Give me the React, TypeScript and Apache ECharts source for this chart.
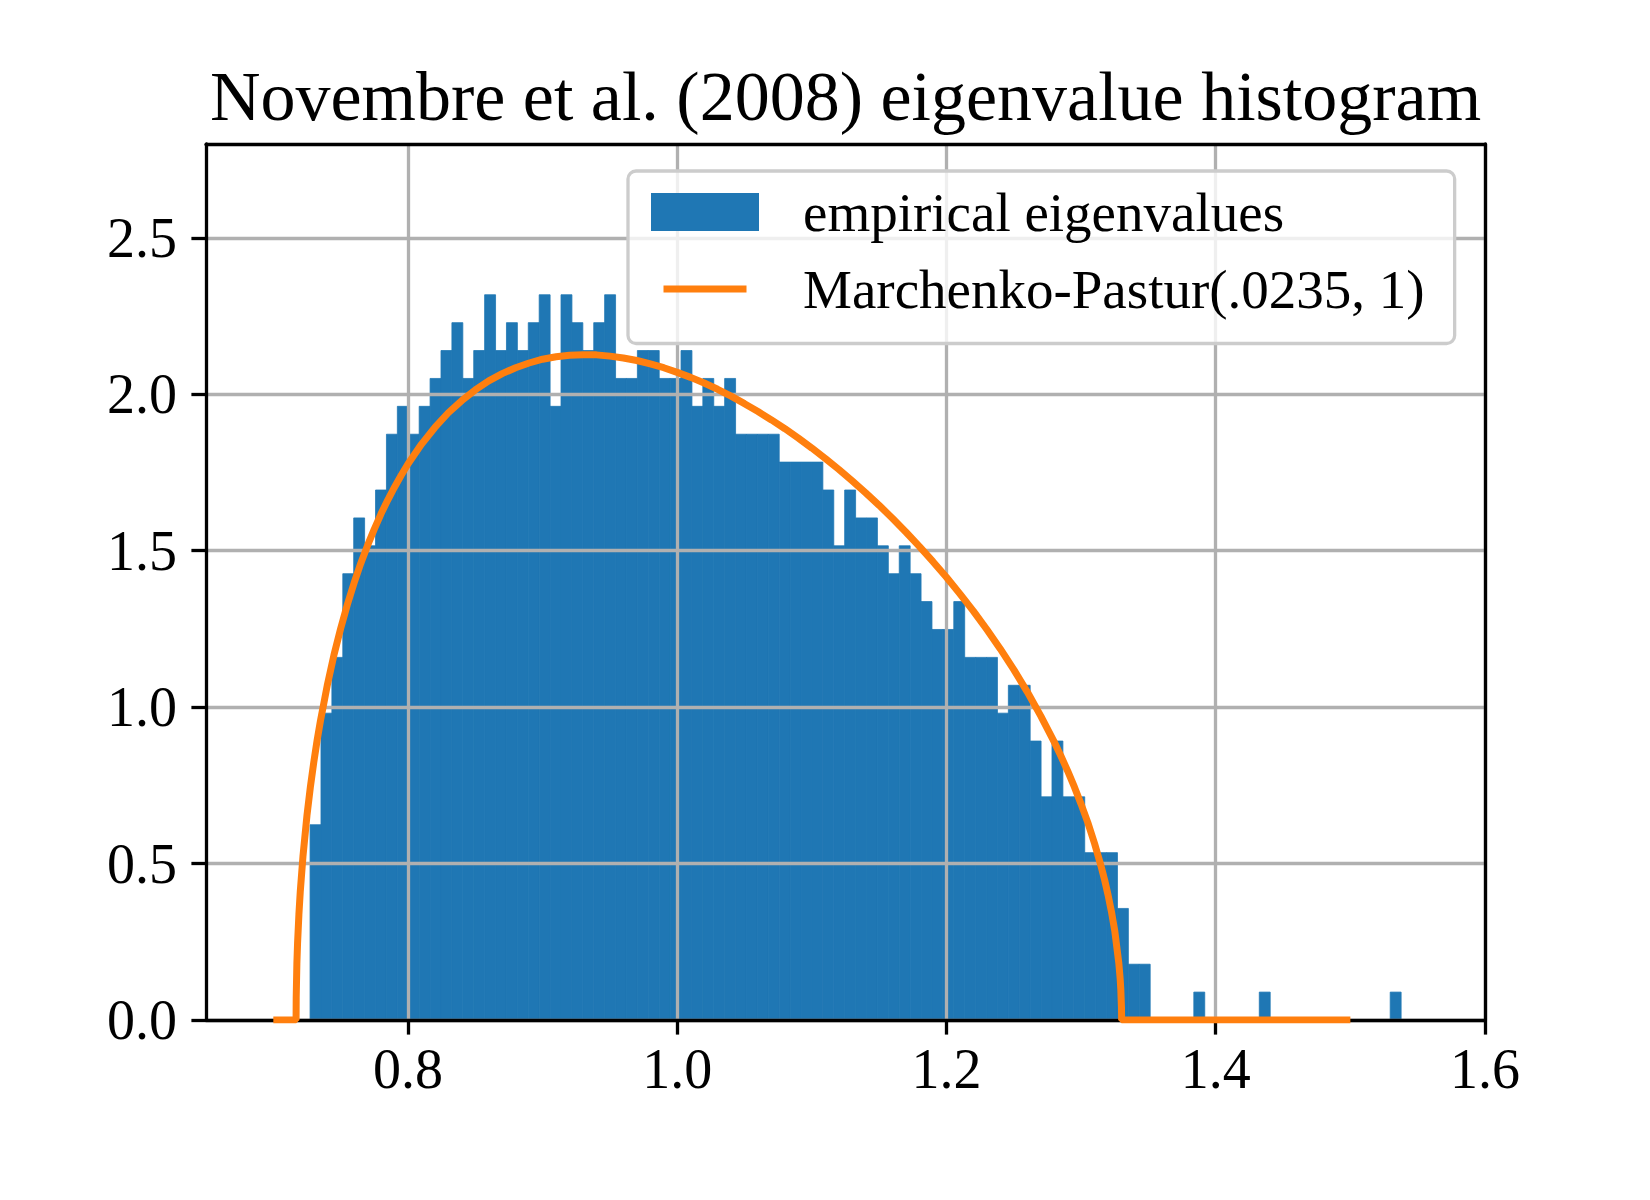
import React, { useEffect, useRef } from "react";
import * as echarts from "echarts";

// ---- data ----
const TITLE = "Novembre et al. (2008) eigenvalue histogram";
const HIST_NAME = "empirical eigenvalues";
const MP_NAME = "Marchenko-Pastur(.0235, 1)";

// histogram: 100 equal bins between the smallest and largest eigenvalue
const BIN_START = 0.7273;
const BIN_END = 1.5377;
const BIN_COUNTS = [
  7, 11, 13, 16, 18, 17, 19, 21, 22, 21,
  22, 23, 24, 25, 23, 24, 26, 24, 25, 24,
  25, 26, 22, 26, 25, 24, 25, 26, 23, 23,
  24, 24, 23, 23, 24, 22, 23, 22, 23, 21,
  21, 21, 21, 20, 20, 20, 20, 19, 17, 19,
  18, 18, 17, 16, 17, 16, 15, 14, 14, 15,
  13, 13, 13, 11, 12, 12, 10, 8, 10, 8,
  8, 6, 6, 6, 4, 2, 2, 0, 0, 0,
  0, 1, 0, 0, 0, 0, 0, 1, 0, 0,
  0, 0, 0, 0, 0, 0, 0, 0, 0, 1,
];

// Marchenko-Pastur curve, points
const MP_X = [
  0.7, 0.7169, 0.717, 0.7175, 0.718, 0.719, 0.72, 0.722, 0.725, 0.7275,
  0.73, 0.7325, 0.735, 0.74, 0.745, 0.75, 0.755, 0.76, 0.765, 0.77,
  0.775, 0.78, 0.785, 0.79, 0.795, 0.8, 0.81, 0.82, 0.83, 0.84,
  0.85, 0.86, 0.87, 0.88, 0.89, 0.9, 0.91, 0.92, 0.93, 0.94,
  0.95, 0.96, 0.97, 0.98, 0.99, 1.0, 1.01, 1.02, 1.03, 1.04,
  1.05, 1.06, 1.07, 1.08, 1.09, 1.1, 1.11, 1.12, 1.13, 1.14,
  1.15, 1.16, 1.17, 1.18, 1.19, 1.2, 1.21, 1.22, 1.23, 1.24,
  1.25, 1.26, 1.27, 1.28, 1.285, 1.29, 1.295, 1.3, 1.305, 1.31,
  1.315, 1.3175, 1.32, 1.3225, 1.325, 1.328, 1.329, 1.3295, 1.33, 1.3301,
  1.5,
];
const MP_Y = [
  0, 0, 0.072, 0.18, 0.244, 0.337, 0.409, 0.522, 0.654, 0.744,
  0.822, 0.893, 0.956, 1.068, 1.166, 1.251, 1.328, 1.397, 1.46, 1.517,
  1.569, 1.618, 1.662, 1.703, 1.741, 1.777, 1.84, 1.894, 1.941, 1.98,
  2.014, 2.043, 2.066, 2.085, 2.1, 2.112, 2.12, 2.125, 2.126, 2.126,
  2.122, 2.116, 2.108, 2.097, 2.085, 2.07, 2.054, 2.036, 2.016, 1.994,
  1.97, 1.945, 1.918, 1.89, 1.86, 1.828, 1.795, 1.76, 1.723, 1.685,
  1.645, 1.603, 1.559, 1.513, 1.465, 1.415, 1.362, 1.307, 1.248, 1.186,
  1.12, 1.049, 0.972, 0.889, 0.844, 0.796, 0.745, 0.69, 0.631, 0.564,
  0.489, 0.447, 0.4, 0.347, 0.285, 0.182, 0.132, 0.097, 0.039, 0,
  0,
];

const X_TICKS = [0.8, 1.0, 1.2, 1.4, 1.6];
const Y_TICKS = [0, 0.5, 1.0, 1.5, 2.0, 2.5];
const X_MIN = 0.65;
const X_MAX = 1.6;
const Y_MIN = 0;
const Y_MAX = 2.8;

const FONT = "'Liberation Serif', 'Times New Roman', serif";
const BLUE = "#1f77b4";
const ORANGE = "#ff7f0e";
const GRID_GRAY = "#b0b0b0";
const LW = 3.3;

export default function App() {
  const ref = useRef<HTMLDivElement>(null);

  useEffect(() => {
    if (!ref.current) return;
    const chart = echarts.init(ref.current, undefined, { renderer: "svg" });

    const nBins = BIN_COUNTS.length;
    const binW = (BIN_END - BIN_START) / nBins;
    const total = BIN_COUNTS.reduce((a, b) => a + b, 0);
    const histData = BIN_COUNTS.map((c, i) => [
      BIN_START + i * binW,
      BIN_START + (i + 1) * binW,
      c / (total * binW),
    ]);
    const mpData = MP_X.map((x, i) => [x, MP_Y[i]]);

    const labelStyle = {
      fontFamily: FONT,
      fontSize: 56,
      lineHeight: 56,
      color: "#000",
    };

    const option: any = {
      animation: false,
      backgroundColor: "#fff",
      grid: {
        left: 206,
        top: 144,
        right: 165,
        bottom: 180,
        containLabel: false,
        outerBoundsMode: "none",
        show: false,
      },
      graphic: [
        {
          type: "text",
          x: 845.5,
          y: 96,
          z: 20,
          style: {
            text: TITLE,
            fontFamily: FONT,
            fontSize: 70,
            fill: "#000",
            align: "center",
            verticalAlign: "middle",
            textAlign: "center",
            textVerticalAlign: "middle",
          },
        },
      ],
      legend: {
        orient: "vertical",
        left: 628,
        top: 171,
        z: 10,
        padding: [13.5, 30, 27, 23],
        itemWidth: 108,
        itemHeight: 38,
        itemGap: 22,
        backgroundColor: "rgba(255,255,255,0.8)",
        borderColor: "#cccccc",
        borderWidth: LW,
        borderRadius: 8,
        selectedMode: false,
        textStyle: {
          fontFamily: FONT,
          fontSize: 55,
          lineHeight: 38,
          color: "#000",
          padding: [0, 0, 0, 39],
        },
        data: [
          { name: HIST_NAME, icon: "rect" },
          {
            name: MP_NAME,
            icon: "path://M0,0 M108,38 M12.5,15.5 h83 v7 h-83 z",
          },
        ],
      },
      xAxis: [
        {
          type: "value",
          min: X_MIN,
          max: X_MAX,
          z: 3.5,
          axisLine: { show: true, onZero: false, lineStyle: { color: "#000", width: LW } },
          axisTick: {
            show: true,
            inside: false,
            length: 14.6,
            customValues: X_TICKS,
            lineStyle: { color: "#000", width: LW },
          },
          axisLabel: {
            show: true,
            customValues: X_TICKS,
            margin: 21,
            formatter: (v: number) => v.toFixed(1),
            ...labelStyle,
          },
          splitLine: { show: true, lineStyle: { color: GRID_GRAY, width: LW } },
        },
        {
          type: "value",
          position: "top",
          min: X_MIN,
          max: X_MAX,
          z: 4,
          axisLine: { show: true, onZero: false, lineStyle: { color: "#000", width: LW } },
          axisTick: { show: false },
          axisLabel: { show: false },
          splitLine: { show: false },
        },
      ],
      yAxis: [
        {
          type: "value",
          min: Y_MIN,
          max: Y_MAX,
          z: 3,
          axisLine: { show: true, onZero: false, lineStyle: { color: "#000", width: LW } },
          axisTick: {
            show: true,
            inside: false,
            length: 14.6,
            customValues: Y_TICKS,
            lineStyle: { color: "#000", width: LW },
          },
          axisLabel: {
            show: true,
            customValues: Y_TICKS,
            margin: 29,
            formatter: (v: number) => v.toFixed(1),
            ...labelStyle,
          },
          splitLine: { show: true, lineStyle: { color: GRID_GRAY, width: LW } },
        },
        {
          type: "value",
          position: "right",
          min: Y_MIN,
          max: Y_MAX,
          z: 4,
          axisLine: { show: true, onZero: false, lineStyle: { color: "#000", width: LW } },
          axisTick: { show: false },
          axisLabel: { show: false },
          splitLine: { show: false },
        },
      ],
      series: [
        {
          name: HIST_NAME,
          type: "custom",
          xAxisIndex: 0,
          yAxisIndex: 0,
          z: 2,
          itemStyle: { color: BLUE },
          encode: { x: [0, 1], y: 2 },
          data: histData,
          renderItem: (params: any, api: any) => {
            const h = api.value(2);
            if (!(h > 0)) return null;
            const p0 = api.coord([api.value(0), h]);
            const p1 = api.coord([api.value(1), 0]);
            return {
              type: "rect",
              shape: {
                x: p0[0],
                y: p0[1],
                width: p1[0] - p0[0],
                height: p1[1] - p0[1],
              },
              style: { fill: BLUE, stroke: BLUE, lineWidth: 0.8 },
            };
          },
        },
        {
          name: MP_NAME,
          type: "line",
          xAxisIndex: 0,
          yAxisIndex: 0,
          z: 5,
          symbol: "none",
          showSymbol: false,
          smooth: false,
          itemStyle: { color: ORANGE },
          lineStyle: { color: ORANGE, width: 7 },
          data: mpData,
        },
      ],
    };

    chart.setOption(option);
    return () => chart.dispose();
  }, []);

  return (
    <div
      style={{
        position: "fixed",
        left: 0,
        top: 0,
        width: 1650,
        height: 1200,
        background: "#fff",
      }}
    >
      <div ref={ref} style={{ width: 1650, height: 1200 }} />
    </div>
  );
}
